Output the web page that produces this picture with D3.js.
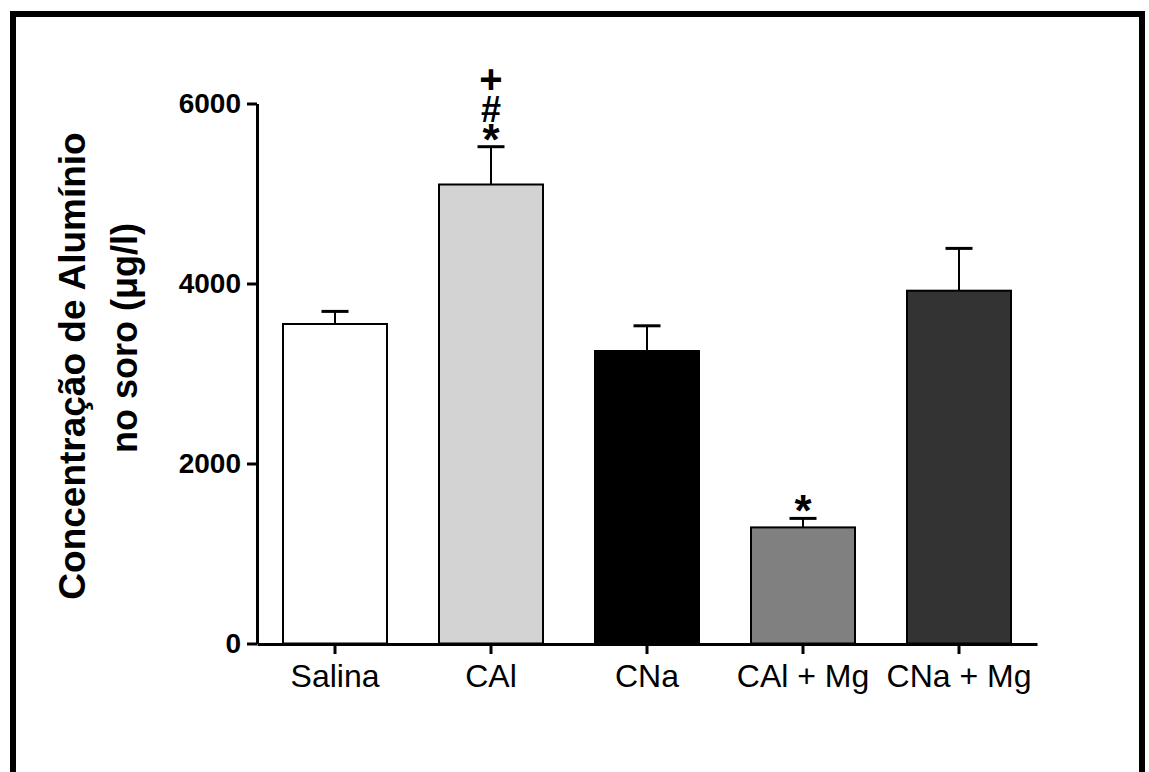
<!DOCTYPE html>
<html><head><meta charset="utf-8">
<script src="https://cdn.jsdelivr.net/npm/d3@7"></script>
<style>body{margin:0;background:#fff}svg{display:block}</style>
</head><body>
<script>
const categories = ["Salina", "CAl", "CNa", "CAl + Mg", "CNa + Mg"];
const means = [3550, 5100, 3250, 1290, 3920];
const errors = [140, 420, 280, 100, 470];
const colors = ["#ffffff", "#d3d3d3", "#000000", "#808080", "#333333"];
const marks = [[], ["*", "#", "+"], [], ["*"], []];
const yTicks = [0, 2000, 4000, 6000];

const W = 1149, H = 772;
const FONT = "Liberation Sans, Arial, sans-serif";
const svg = d3.select("body").append("svg").attr("width", W).attr("height", H);

// frame
svg.append("path").attr("d", "M13,800 L13,14 L1142,14 L1142,800")
  .attr("fill", "none").attr("stroke", "#000").attr("stroke-width", 6);

const x = d3.scaleBand().domain(categories).range([257, 1037]).paddingInner(1/3).paddingOuter(1/6);
const y = d3.scaleLinear().domain([0, 6000]).range([643.5, 103.5]);

// bars
svg.selectAll("rect.bar").data(categories).enter().append("rect")
  .attr("x", d => x(d)).attr("width", x.bandwidth())
  .attr("y", (d, i) => y(means[i])).attr("height", (d, i) => y(0) - y(means[i]))
  .attr("fill", (d, i) => colors[i]).attr("stroke", "#000").attr("stroke-width", 2);

// error bars
const cx = d => x(d) + x.bandwidth() / 2;
svg.selectAll("line.err").data(categories).enter().append("line")
  .attr("x1", cx).attr("x2", cx)
  .attr("y1", (d, i) => y(means[i])).attr("y2", (d, i) => y(means[i] + errors[i]))
  .attr("stroke", "#000").attr("stroke-width", 2);
svg.selectAll("line.cap").data(categories).enter().append("line")
  .attr("x1", d => cx(d) - 13.5).attr("x2", d => cx(d) + 13.5)
  .attr("y1", (d, i) => y(means[i] + errors[i])).attr("y2", (d, i) => y(means[i] + errors[i]))
  .attr("stroke", "#000").attr("stroke-width", 3);

// significance marks (stacked above the error cap), one text per bar
const markOffsets = [8, -25, -54];
const markSizes = [44, 36, 40];
categories.forEach((c, i) => {
  if (!marks[i].length) return;
  const top = y(means[i] + errors[i]);
  const t = svg.append("text").attr("text-anchor", "middle")
    .attr("font-family", FONT).attr("font-weight", "bold");
  marks[i].forEach((m, k) => {
    t.append("tspan").attr("x", cx(c)).attr("y", top + markOffsets[k])
      .attr("font-size", markSizes[k]).text(m);
  });
});

// y axis
const yAxis = d3.axisLeft(y).tickValues(yTicks).tickSize(10).tickSizeOuter(0).tickPadding(6).tickFormat(d3.format("d"));
const gy = svg.append("g").attr("transform", "translate(257,0)").call(yAxis);
gy.select(".domain").attr("stroke-width", 3);
gy.selectAll(".tick line").attr("stroke-width", 3);
gy.selectAll(".tick text").attr("font-family", FONT)
  .attr("font-weight", "bold").attr("font-size", 28).attr("fill", "#000");

// x axis
const xAxis = d3.axisBottom(x).tickSize(10).tickSizeOuter(0).tickPadding(10);
const gx = svg.append("g").attr("transform", "translate(0,644)").call(xAxis);
gx.select(".domain").attr("stroke-width", 3);
gx.selectAll(".tick line").attr("stroke-width", 3);
gx.selectAll(".tick text").attr("font-family", FONT)
  .attr("font-size", 32).attr("fill", "#000");

// y title
svg.append("text").attr("transform", "translate(85,366) rotate(-90)")
  .attr("text-anchor", "middle").attr("font-family", FONT)
  .attr("font-weight", "bold").attr("font-size", 37).text("Concentração de Alumínio");
svg.append("text").attr("transform", "translate(137,338) rotate(-90)")
  .attr("text-anchor", "middle").attr("font-family", FONT)
  .attr("font-weight", "bold").attr("font-size", 36).text("no soro (μg/l)");
</script>
</body></html>
